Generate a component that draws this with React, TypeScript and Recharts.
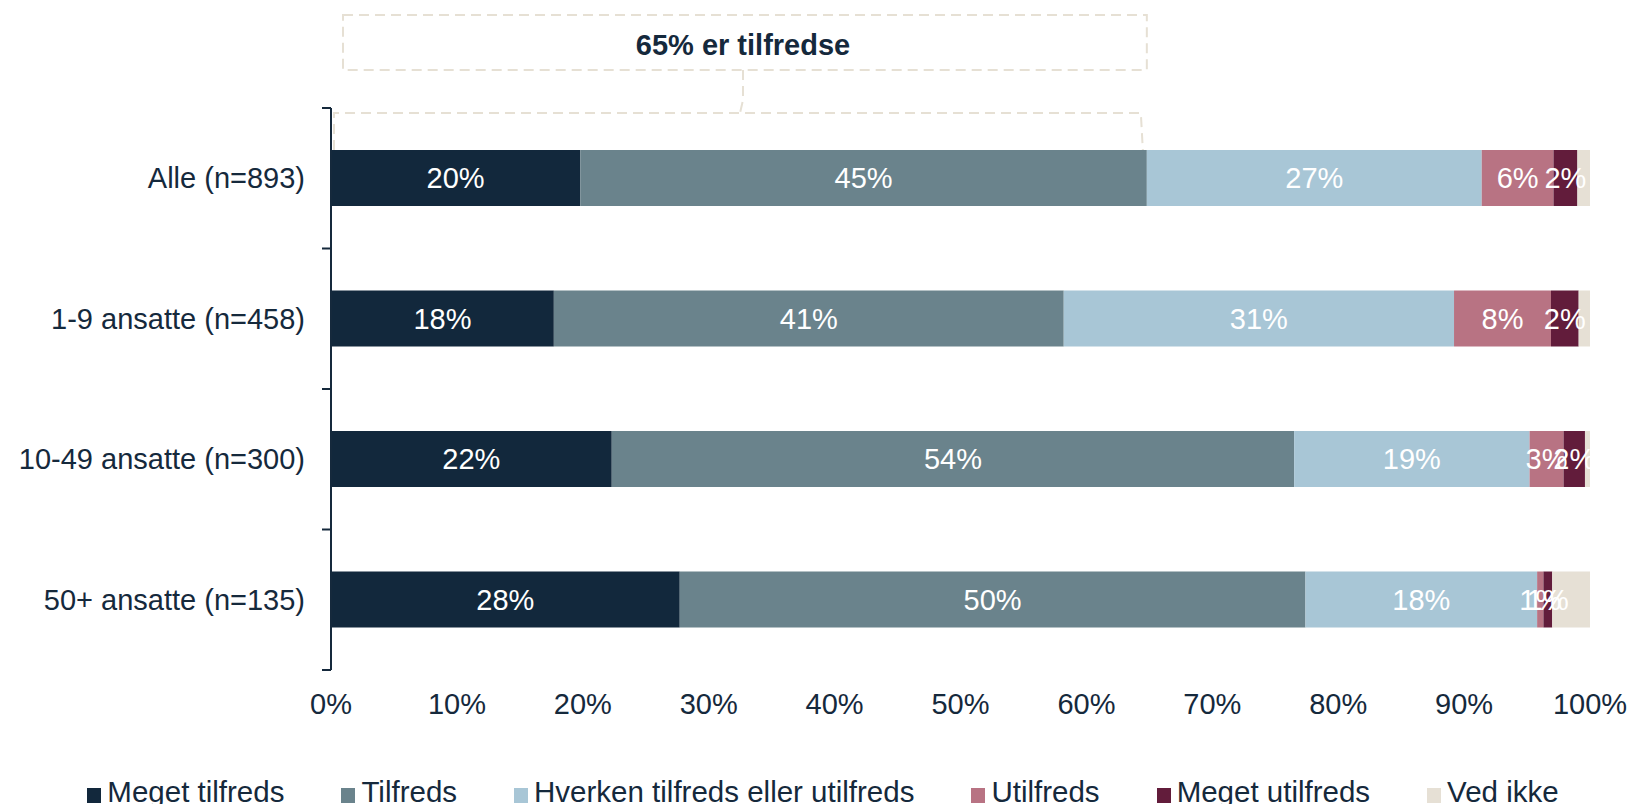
import React from 'react';
import { BarChart, Bar, XAxis, YAxis, Legend, LabelList } from 'recharts';

const categories = ['Alle (n=893)', '1-9 ansatte (n=458)', '10-49 ansatte (n=300)', '50+ ansatte (n=135)'];
const megetTilfreds = [19.8, 17.7, 22.3, 27.7];
const tilfreds = [45.0, 40.5, 54.2, 49.7];
const hverken = [26.6, 31.0, 18.7, 18.4];
const utilfreds = [5.7, 7.7, 2.7, 0.5];
const megetUtilfreds = [1.9, 2.2, 1.7, 0.7];
const vedIkke = [1.0, 0.9, 0.4, 3.0];
const xTicks = [0, 10, 20, 30, 40, 50, 60, 70, 80, 90, 100];
const calloutText = '65% er tilfredse';

const series = [
  { key: 'megetTilfreds', name: 'Meget tilfreds', color: '#12283c', values: megetTilfreds, label: true },
  { key: 'tilfreds', name: 'Tilfreds', color: '#6a838c', values: tilfreds, label: true },
  { key: 'hverken', name: 'Hverken tilfreds eller utilfreds', color: '#a8c6d6', values: hverken, label: true },
  { key: 'utilfreds', name: 'Utilfreds', color: '#b87383', values: utilfreds, label: true },
  { key: 'megetUtilfreds', name: 'Meget utilfreds', color: '#621c3b', values: megetUtilfreds, label: true },
  { key: 'vedIkke', name: 'Ved ikke', color: '#e6e0d5', values: vedIkke, label: false },
];

const data = categories.map((name, i) => {
  const row: Record<string, string | number> = { name };
  series.forEach((s) => {
    row[s.key] = s.values[i];
  });
  return row;
});

const W = 1629;
const H = 804;
const FONT = '"Liberation Sans", Arial, sans-serif';
const FS = 29;
const TEXT = '#15293c';
const margin = { top: 108, right: 39, bottom: 0, left: 0 };
const Y_WIDTH = 331;
const plotLeft = margin.left + Y_WIDTH;
const plotWidth = W - plotLeft - margin.right;
const xPos = (v: number) => plotLeft + (v / 100) * plotWidth;

const satisfied = megetTilfreds[0] + tilfreds[0];

// category label plus Excel-style tick marks on the band edges
function CategoryTick(props: any) {
  const { x, y, payload, index, visibleTicksCount } = props;
  const off = payload?.offset ?? 0;
  const lx1 = x + 17;
  const lx2 = x + 26;
  const last = index === (visibleTicksCount ?? categories.length) - 1;
  return (
    <g>
      {off > 0 && <line x1={lx1} x2={lx2} y1={y - off} y2={y - off} stroke={TEXT} strokeWidth={2} />}
      {off > 0 && last && <line x1={lx1} x2={lx2} y1={y + off} y2={y + off} stroke={TEXT} strokeWidth={2} />}
      <text x={x} y={y} textAnchor="end" dominantBaseline="central" fill={TEXT} fontSize={FS} fontFamily={FONT}>
        {payload.value}
      </text>
    </g>
  );
}

function LegendContent() {
  return (
    <div style={{ display: 'flex', justifyContent: 'center', gap: 57, fontFamily: FONT, fontSize: 29.5, color: TEXT, lineHeight: '40px', paddingLeft: 56 }}>
      {series.map((s) => (
        <div key={s.key} style={{ display: 'flex', alignItems: 'center' }}>
          <span style={{ display: 'inline-block', width: 14, height: 15, background: s.color, marginRight: 6, marginTop: 6 }} />
          <span>{s.name}</span>
        </div>
      ))}
    </div>
  );
}

function Callout() {
  const right = xPos(satisfied);
  const left = xPos(0) + 3;
  const mid = 743;
  const dash = { stroke: '#e6e0d4', strokeWidth: 2, strokeDasharray: '10 6', fill: 'none' };
  return (
    <svg width={W} height={H} style={{ position: 'absolute', left: 0, top: 0, pointerEvents: 'none' }}>
      <rect x={343} y={15} width={right - 343} height={55} {...dash} />
      <text x={mid} y={45} textAnchor="middle" dominantBaseline="central" fontFamily={FONT} fontWeight="bold" fontSize={FS} fill={TEXT}>
        {calloutText}
      </text>
      <path d={`M ${mid} 70 L ${mid} 100 L ${mid - 3} 113`} {...dash} />
      <path d={`M ${left} 150 L ${left} 113 L ${right - 6} 113 L ${right - 4} 150`} {...dash} />
    </svg>
  );
}

export default function App() {
  return (
    <div style={{ position: 'absolute', left: 0, top: 0, width: W, height: H, background: '#fff', fontFamily: FONT }}>
      <BarChart width={W} height={H} data={data} layout="vertical" margin={margin}>
        <YAxis
          type="category"
          dataKey="name"
          width={Y_WIDTH}
          axisLine={{ stroke: TEXT, strokeWidth: 2 }}
          tickLine={false}
          tickSize={0}
          tickMargin={26}
          tick={<CategoryTick />}
        />
        <XAxis
          type="number"
          domain={[0, 100]}
          ticks={xTicks}
          height={94}
          axisLine={false}
          tickLine={false}
          tickSize={0}
          tickMargin={23}
          tickFormatter={(v: number) => `${v}%`}
          tick={{ fill: TEXT, fontSize: FS, fontFamily: FONT }}
        />
        <Legend verticalAlign="bottom" height={40} wrapperStyle={{ bottom: -8 }} content={() => <LegendContent />} />
        {series.map((s) => (
          <Bar key={s.key} dataKey={s.key} name={s.name} stackId="a" fill={s.color} barSize={56} isAnimationActive={false}>
            {s.label && (
              <LabelList
                dataKey={s.key}
                position="center"
                fill="#ffffff"
                fontSize={FS}
                fontFamily={FONT}
                formatter={(v: number) => `${Math.round(v)}%`}
              />
            )}
          </Bar>
        ))}
      </BarChart>
      <Callout />
    </div>
  );
}
